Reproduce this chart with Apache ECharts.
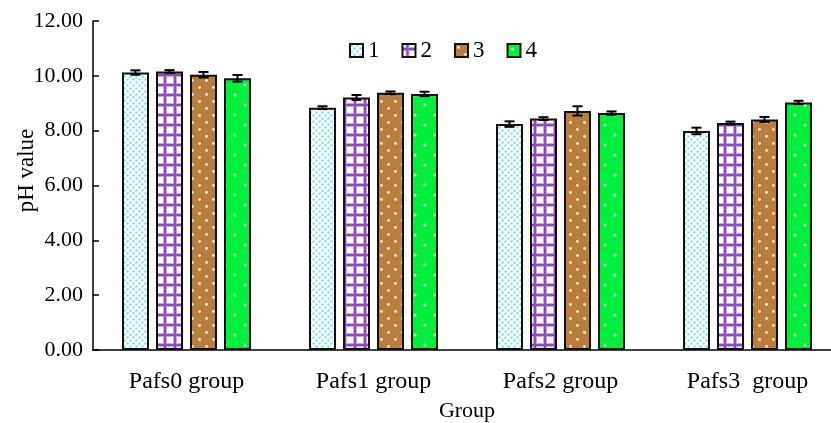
<!DOCTYPE html>
<html>
<head>
<meta charset="utf-8">
<script src="https://cdn.jsdelivr.net/npm/echarts@6/dist/echarts.min.js"></script>
<style>
html,body{margin:0;padding:0;background:#fff;}
#chart{width:831px;height:423px;}
</style>
</head>
<body>
<div id="chart"></div>
<script>
const categories = ['Pafs0 group', 'Pafs1 group', 'Pafs2 group', 'Pafs3  group'];
const seriesNames = ['1', '2', '3', '4'];
const values1 = [10.12, 8.84, 8.24, 7.99];
const values2 = [10.16, 9.21, 8.44, 8.28];
const values3 = [10.04, 9.38, 8.72, 8.41];
const values4 = [9.91, 9.34, 8.64, 9.03];
const errors1 = [0.08, 0.05, 0.10, 0.12];
const errors2 = [0.05, 0.09, 0.05, 0.05];
const errors3 = [0.10, 0.05, 0.17, 0.09];
const errors4 = [0.12, 0.08, 0.06, 0.06];
const yTicks = [0, 2, 4, 6, 8, 10, 12];

const values = [values1, values2, values3, values4];
const errors = [errors1, errors2, errors3, errors4];

function makePattern(size, bg, draw) {
  const c = document.createElement('canvas');
  c.width = size; c.height = size;
  const ctx = c.getContext('2d');
  ctx.fillStyle = bg;
  ctx.fillRect(0, 0, size, size);
  draw(ctx);
  return c;
}
function dot(ctx, x, y, r, col) {
  ctx.fillStyle = col;
  ctx.beginPath();
  ctx.arc(x, y, r, 0, Math.PI * 2);
  ctx.fill();
}
const pat1 = makePattern(6, '#ffffff', ctx => {
  dot(ctx, 1.5, 1.5, 1.3, '#80e2e8');
  dot(ctx, 4.5, 4.5, 1.3, '#80e2e8');
});
const pat2 = makePattern(10, '#ffffff', ctx => {
  ctx.fillStyle = '#c9a8e4';
  ctx.fillRect(0, 3, 10, 4);
  ctx.fillRect(3, 0, 4, 10);
  ctx.fillStyle = '#8a4cc0';
  ctx.fillRect(0, 4, 10, 2);
  ctx.fillRect(4, 0, 2, 10);
});
const pat3 = makePattern(14, '#b97e3e', ctx => {
  dot(ctx, 3.5, 3.5, 1.4, '#f6e6d2');
  dot(ctx, 10.5, 10.5, 1.4, '#f6e6d2');
});
const pat4 = makePattern(20, '#00ee3c', ctx => {
  dot(ctx, 5, 5, 1.5, '#c8ffd2');
  dot(ctx, 15, 15, 1.5, '#c8ffd2');
});
const patterns = [pat1, pat2, pat3, pat4];

const BAR_W = 27, GAP = 7;
const FONT = '"Liberation Serif", "Times New Roman", serif';

const series = [];
seriesNames.forEach((n, i) => {
  series.push({
    name: n,
    type: 'bar',
    barWidth: BAR_W,
    barGap: (GAP / BAR_W * 100).toFixed(1) + '%',
    data: values[i],
    itemStyle: {
      color: { image: patterns[i], repeat: 'repeat' },
      borderColor: '#111',
      borderWidth: 2
    },
    emphasis: { disabled: true }
  });
});
seriesNames.forEach((n, i) => {
  const offset = (i - 1.5) * (BAR_W + GAP);
  series.push({
    name: 'err' + n,
    type: 'custom',
    z: 10,
    data: categories.map((c, k) => [k, values[i][k], errors[i][k]]),
    renderItem: function (params, api) {
      const k = api.value(0);
      const v = api.value(1);
      const e = api.value(2);
      const top = api.coord([k, v + e]);
      const bot = api.coord([k, v - e]);
      const x = top[0] + offset;
      const cw = 5;
      const st = { stroke: '#000', lineWidth: 2 };
      return {
        type: 'group',
        children: [
          { type: 'line', shape: { x1: x, y1: top[1], x2: x, y2: bot[1] }, style: st },
          { type: 'line', shape: { x1: x - cw, y1: top[1], x2: x + cw, y2: top[1] }, style: st },
          { type: 'line', shape: { x1: x - cw, y1: bot[1], x2: x + cw, y2: bot[1] }, style: st }
        ]
      };
    }
  });
});

const chart = echarts.init(document.getElementById('chart'));
chart.setOption({
  animation: false,
  backgroundColor: '#fff',
  textStyle: { fontFamily: FONT },
  legend: {
    data: seriesNames,
    left: 344,
    top: 34,
    itemWidth: 13,
    itemHeight: 13,
    itemGap: 22,
    textStyle: { fontFamily: FONT, fontSize: 23, color: '#000' },
    itemStyle: { borderWidth: 2, borderColor: '#111' },
    icon: 'rect'
  },
  grid: { left: 93, right: -10, top: 21, bottom: 73, containLabel: false, outerBoundsMode: 'none' },
  xAxis: {
    type: 'category',
    data: categories,
    name: 'Group',
    nameLocation: 'middle',
    nameGap: 50,
    nameMoveOverlap: false,
    nameTextStyle: { fontFamily: FONT, fontSize: 22, color: '#000' },
    axisLine: { lineStyle: { color: '#000', width: 1.5 } },
    axisTick: { inside: true, length: 6, lineStyle: { color: '#000', width: 1.5 } },
    axisLabel: { fontFamily: FONT, fontSize: 24, color: '#000', margin: 20 }
  },
  yAxis: {
    type: 'value',
    min: yTicks[0],
    max: yTicks[yTicks.length - 1],
    interval: 2,
    name: 'pH value',
    nameLocation: 'middle',
    nameGap: 55,
    nameMoveOverlap: false,
    nameTextStyle: { fontFamily: FONT, fontSize: 23, color: '#000', padding: [0, 0, 0, 30] },
    axisLine: { show: true, lineStyle: { color: '#000', width: 1.5 } },
    axisTick: { show: true, inside: true, length: 6, lineStyle: { color: '#000', width: 1.5 } },
    splitLine: { show: false },
    axisLabel: { fontFamily: FONT, fontSize: 22, color: '#000', margin: 10, formatter: v => v.toFixed(2) }
  },
  series: series
});
</script>
</body>
</html>
